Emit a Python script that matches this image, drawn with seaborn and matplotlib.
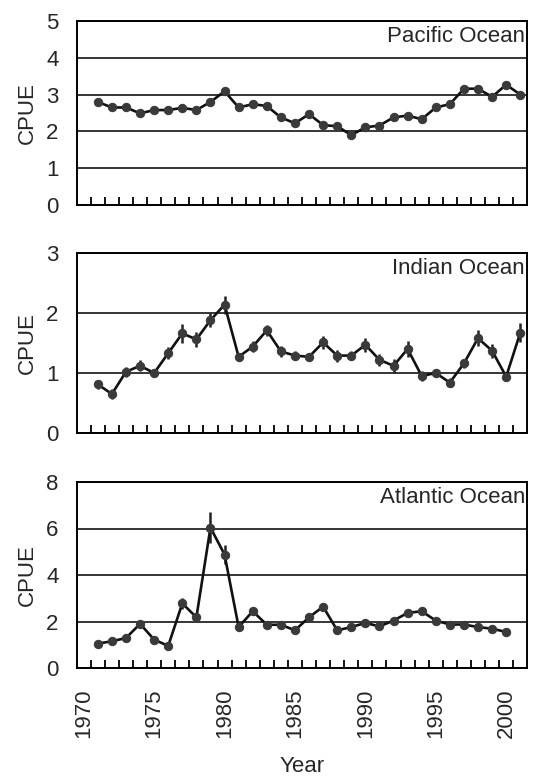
import numpy as np
import pandas as pd
import seaborn as sns
import matplotlib.pyplot as plt
from matplotlib.ticker import MultipleLocator, FixedLocator

# CPUE by year for each ocean
years_po = list(range(1971, 2002))
pacific = [2.80, 2.65, 2.65, 2.49, 2.58, 2.58, 2.64, 2.58, 2.80, 3.09,
           2.65, 2.74, 2.69, 2.38, 2.22, 2.47, 2.17, 2.14, 1.90, 2.11,
           2.16, 2.38, 2.43, 2.33, 2.65, 2.74, 3.16, 3.16, 2.94, 3.27, 3.00]
pacific_err = [0.05] * 31

years_io = list(range(1971, 2002))
indian = [0.81, 0.65, 1.02, 1.12, 1.00, 1.33, 1.66, 1.56, 1.88, 2.14,
          1.27, 1.44, 1.71, 1.36, 1.29, 1.27, 1.51, 1.29, 1.29, 1.47,
          1.22, 1.12, 1.40, 0.95, 1.00, 0.84, 1.16, 1.58, 1.37, 0.94, 1.67]
indian_err = [0.08, 0.08, 0.08, 0.09, 0.06, 0.10, 0.16, 0.13, 0.12, 0.15,
              0.07, 0.09, 0.09, 0.09, 0.07, 0.07, 0.11, 0.10, 0.08, 0.12,
              0.10, 0.12, 0.13, 0.08, 0.06, 0.08, 0.08, 0.13, 0.12, 0.06, 0.16]

years_ao = list(range(1971, 2001))
atlantic = [1.05, 1.15, 1.29, 1.90, 1.22, 0.95, 2.78, 2.18, 6.04, 4.88,
            1.76, 2.44, 1.86, 1.86, 1.62, 2.18, 2.64, 1.62, 1.76, 1.94,
            1.79, 2.04, 2.37, 2.44, 2.04, 1.87, 1.87, 1.76, 1.69, 1.55]
atlantic_err = [0.08, 0.08, 0.10, 0.12, 0.10, 0.08, 0.25, 0.15, 0.65, 0.40,
                0.12, 0.15, 0.10, 0.10, 0.10, 0.12, 0.15, 0.10, 0.08, 0.08,
                0.08, 0.08, 0.10, 0.12, 0.08, 0.08, 0.08, 0.08, 0.08, 0.08]

panels = [
    ("Pacific Ocean", years_po, pacific, pacific_err, 5, 1),
    ("Indian Ocean", years_io, indian, indian_err, 3, 1),
    ("Atlantic Ocean", years_ao, atlantic, atlantic_err, 8, 2),
]
year_labels = list(range(1970, 2001, 5))

sns.set_style("white")
plt.rcParams['font.family'] = ['Liberation Sans', 'DejaVu Sans']

fig = plt.figure(figsize=(5.34, 7.79), dpi=100)
W, H = 534, 779
boxes = [(21, 205), (253, 433), (482, 668)]
left, right = 76.7, 527.3
fs = 16

for i, ((name, yrs, vals, errs, ymax, ystep), (top, bot)) in enumerate(zip(panels, boxes)):
    ax = fig.add_axes([left / W, 1 - bot / H, (right - left) / W, (bot - top) / H])
    df = pd.DataFrame({"Year": yrs, "CPUE": vals, "err": errs})
    ax.errorbar(df["Year"], df["CPUE"], yerr=df["err"], fmt='none',
                ecolor='#222222', elinewidth=1.8, capsize=0, zorder=3)
    sns.lineplot(data=df, x="Year", y="CPUE", ax=ax, color='#111111',
                 linewidth=1.9, marker='o', markersize=6,
                 markerfacecolor='#3a3a3a', markeredgecolor='#3a3a3a', zorder=4)
    ax.set_xlim(1969.5, 2001.5)
    ax.set_ylim(0, ymax)
    ax.yaxis.set_major_locator(MultipleLocator(ystep))
    ax.grid(axis='y', color='black', linewidth=1.1)
    ax.set_axisbelow(True)
    for s in ax.spines.values():
        s.set_color('black')
        s.set_linewidth(1.4)
    ax.xaxis.set_minor_locator(FixedLocator(np.arange(1970.5, 2001, 1.0)))
    ax.tick_params(axis='x', which='minor', direction='in', length=6,
                   width=1.3, color='black', bottom=True)
    ax.tick_params(axis='y', length=0, pad=13, labelsize=fs)
    ax.set_xticks(year_labels)
    if i == 2:
        ax.set_xticklabels([str(y) for y in year_labels], rotation=90)
        ax.tick_params(axis='x', which='major', length=0, pad=15, labelsize=fs)
        ax.set_xlabel("Year", fontsize=fs, labelpad=13)
    else:
        ax.tick_params(axis='x', which='major', length=0, labelbottom=False)
        ax.set_xlabel("")
    ax.set_ylabel("CPUE", fontsize=fs, labelpad=6)
    ax.text(0.995, 0.915, name, transform=ax.transAxes, ha='right',
            va='center', fontsize=fs)

fig.savefig("out.png", dpi=100)
